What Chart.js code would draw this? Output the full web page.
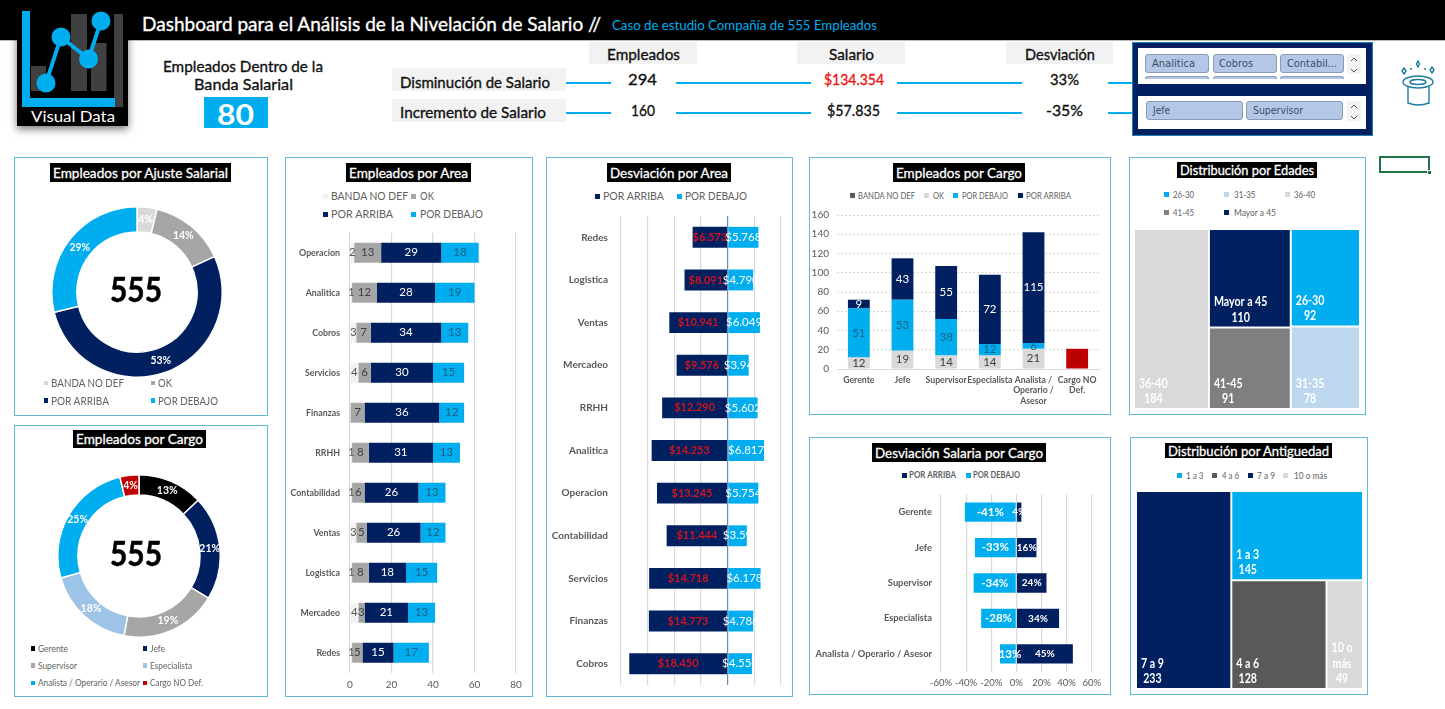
<!DOCTYPE html>
<html lang="es"><head><meta charset="utf-8"><title>Dashboard Nivelación de Salario</title>
<script src="https://cdn.jsdelivr.net/npm/chart.js@4/dist/chart.umd.min.js"></script>
<style>
html,body{margin:0;padding:0;background:#fff}
#root{position:relative;width:1445px;height:709px;overflow:hidden;background:#fff}
#root>*{position:absolute}
</style></head><body><div id="root"></div>
<script>
// ---------- DATA ----------
const ajusteLabels=['BANDA NO DEF','OK','POR ARRIBA','POR DEBAJO'];
const ajusteValues=[21,80,294,160];
const ajustePct=['4%','14%','53%','29%'];
const cargoLabels=['Gerente','Jefe','Supervisor','Especialista','Analista / Operario / Asesor','Cargo NO Def.'];
const cargoTotals=[72,115,107,98,142,21];
const cargoPct=['13%','21%','19%','18%','25%','4%'];
const areaLabels=['Operacion','Analitica','Cobros','Servicios','Finanzas','RRHH','Contabilidad','Ventas','Logistica','Mercadeo','Redes'];
const areaBanda=[2,1,3,4,0,1,1,3,1,4,1];
const areaOk=[13,12,7,6,7,8,6,5,8,3,5];
const areaArriba=[29,28,34,30,36,31,26,26,18,21,15];
const areaDebajo=[18,19,13,15,12,13,13,12,15,13,17];
const desvLabels=['Redes','Logistica','Ventas','Mercadeo','RRHH','Analitica','Operacion','Contabilidad','Servicios','Finanzas','Cobros'];
const desvArriba=[-6573,-8091,-10941,-9576,-12290,-14253,-13245,-11444,-14718,-14773,-18450];
const desvDebajo=[5768,4790,6049,3940,5602,6817,5754,3590,6178,4786,4550];
const desvArribaText=['$6.573','$8.091','$10.941','$9.576','$12.290','$14.253','$13.245','$11.444','$14.718','$14.773','$18.450'];
const desvDebajoText=['$5.768','$4.790','$6.049','$3.94','$5.602','$6.817','$5.754','$3.59','$6.178','$4.786','$4.550'];
const cargoTicks=['Gerente','Jefe','Supervisor','Especialista',['Analista /','Operario /','Asesor'],['Cargo NO','Def.']];
const cargoBanda=[0,0,0,0,0,21];
const cargoOk=[12,19,14,14,21,0];
const cargoDebajo=[51,53,38,12,6,0];
const cargoArriba=[9,43,55,72,115,0];
const salLabels=['Gerente','Jefe','Supervisor','Especialista','Analista / Operario / Asesor'];
const salArriba=[4,16,24,34,45];
const salDebajo=[-41,-33,-34,-28,-13];
const edadLabels=['26-30','31-35','36-40','41-45','Mayor a 45'];
const edadValues=[92,78,184,91,110];
const antigLabels=['1 a 3','4 a 6','7 a 9','10 o más'];
const antigValues=[145,128,233,49];

// ---------- COLOURS / HELPERS ----------
const NAVY='#002060',SKY='#00AEEF',G1='#F2F2F2',G2='#A6A6A6',G3='#D9D9D9',TXT='#595959';
const root=document.getElementById('root');
Chart.defaults.font.family='Lato';
Chart.defaults.animation=false;
Chart.defaults.plugins.legend.display=false;
Chart.defaults.plugins.tooltip.enabled=false;

function box(x0,y0,x1,y1,css){const d=document.createElement('div');
  d.style.cssText=`left:${x0}px;top:${y0}px;width:${x1-x0}px;height:${y1-y0}px;box-sizing:border-box;${css||''}`;root.append(d);return d;}
function txt(s,x0,x1,yc,size,color,weight,fam,stroke){const el=document.createElement('div');el.textContent=s;
  el.style.cssText=`left:${x0}px;top:${yc}px;white-space:nowrap;font:${weight||400} ${size}px/1 ${fam||'Lato'};color:${color};transform-origin:0 50%;${stroke?`-webkit-text-stroke:${stroke}px ${color};`:''}`;
  root.append(el);const w=el.getBoundingClientRect().width;
  el.style.transform=`translateY(-50%) scaleX(${(x1-x0)/w})`;return el;}
function med(s,x0,x1,yc,size,color){return txt(s,x0,x1,yc,size,color||'#111',400,'Lato',.35);}
function panel(x0,y0,x1,y1){box(x0,y0,x1,y1,'border:1.5px solid #62BAD8;background:#fff');}
function title(s,x0,x1,y0,y1,size){box(x0,y0,x1,y1,'background:#000');
  txt(s,x0+3,x1-3,(y0+y1)/2,size||14,'#fff',400,'Lato',.3);}
function leg(mx,yc,ms,color,s,x0,x1,size,col,weight){box(mx-ms/2,yc-ms/2,mx+ms/2,yc+ms/2,`background:${color}`);
  txt(s,x0,x1,yc,size,col||'#626262',weight||400);}
function canvas(x0,y0,x1,y1){const c=document.createElement('canvas');c.width=x1-x0;c.height=y1-y0;
  c.style.cssText=`left:${x0}px;top:${y0}px;width:${x1-x0}px;height:${y1-y0}px`;root.append(c);return c;}

const zeroLine={id:'zeroLine',afterDatasetsDraw(chart,a,o){if(!o.color)return;const {ctx,chartArea:c,scales:{x}}=chart;
  const px=x.getPixelForValue(0);ctx.save();ctx.strokeStyle=o.color;ctx.lineWidth=1;ctx.beginPath();ctx.moveTo(px,c.top);ctx.lineTo(px,c.bottom);ctx.stroke();ctx.restore();}};
const valueLabels={id:'valueLabels',afterDatasetsDraw(chart){const ctx=chart.ctx;
  chart.data.datasets.forEach((ds,di)=>{if(!ds.lab)return;
    chart.getDatasetMeta(di).data.forEach((el,i)=>{const t=ds.lab(ds.data[i],i);if(t==null||t==='')return;
      const p=el.getCenterPoint();ctx.save();ctx.font=ds.labFont||'12px Lato';
      const c=ds.labColor;ctx.fillStyle=Array.isArray(c)?c[i]:c;ctx.textAlign='center';ctx.textBaseline='middle';
      ctx.fillText(t,p.x,p.y);ctx.restore();});});}};
Chart.register(zeroLine,valueLabels);

function ring(cx,cy,r,labels,values,colors,cutout,texts,textColors){
  const c=canvas(cx-r-1,cy-r-1,cx+r+1,cy+r+1);
  new Chart(c,{type:'doughnut',data:{labels,datasets:[{data:values,backgroundColor:colors,borderColor:'#fff',borderWidth:1.5,
    lab:(v,i)=>texts[i],labFont:'700 10.5px Lato',labColor:textColors}]},
    options:{responsive:false,cutout,layout:{padding:0}}});
}
function bars(rect,plot,labels,datasets,horizontal,xo,yo,barPct,plugins){
  const [x0,y0,x1,y1]=rect,[l,t,r,b]=plot;
  const xfit=s=>{s.height=y1-b;s.paddingLeft=0;s.paddingRight=0;},yfit=s=>{s.width=l-x0;s.paddingTop=0;s.paddingBottom=0;};
  new Chart(canvas(x0,y0,x1,y1),{type:'bar',data:{labels,datasets:datasets.map(d=>({barPercentage:barPct,categoryPercentage:1,...d}))},
    options:{responsive:false,indexAxis:horizontal?'y':'x',layout:{padding:{left:0,top:t-y0,right:x1-r,bottom:0}},
      plugins:plugins||{},
      scales:{x:{stacked:true,afterFit:xfit,...xo},y:{stacked:true,afterFit:yfit,...yo}}}});
}

// Treemap: rectangles come from the values, placed through the chart's linear scales.
class TreemapController extends Chart.DatasetController{
  update(mode){const ds=this.getDataset(),meta=this._cachedMeta,vals=ds.data,out=[];
    const sum=n=>typeof n==='number'?vals[n]:n.kids.reduce((a,k)=>a+sum(k),0);
    (function walk(n,b){if(typeof n==='number'){out[n]=b;return;}
      const tot=sum(n);let p=0;n.kids.forEach(k=>{const f=sum(k)/tot;
        walk(k,n.dir==='h'?{x0:b.x0+(b.x1-b.x0)*p,x1:b.x0+(b.x1-b.x0)*(p+f),y0:b.y0,y1:b.y1}
                          :{x0:b.x0,x1:b.x1,y0:b.y0+(b.y1-b.y0)*p,y1:b.y0+(b.y1-b.y0)*(p+f)});p+=f;});
    })(ds.tree,{x0:0,x1:1,y0:0,y1:1});
    meta.data.forEach((el,i)=>{const q=out[i],g=1;
      const l=meta.xScale.getPixelForValue(q.x0)+g,r=meta.xScale.getPixelForValue(q.x1)-g;
      const t=meta.yScale.getPixelForValue(q.y0)+g,bt=meta.yScale.getPixelForValue(q.y1)-g;
      this.updateElement(el,i,{x:(l+r)/2,y:t,base:bt,width:r-l,height:bt-t,horizontal:false,enableBorderRadius:false,
        inflateAmount:0,borderSkipped:{},options:this.resolveDataElementOptions(i,mode)},mode);});
  }
}
TreemapController.id='treemapCells';
TreemapController.defaults={datasetElementType:false,dataElementType:'bar'};
Chart.register(TreemapController);
const treemapText={id:'treemapText',afterDatasetsDraw(chart){const ctx=chart.ctx,ds=chart.data.datasets[0];if(ds.type!=='treemapCells')return;
  const K=.85;
  chart.getDatasetMeta(0).data.forEach((el,i)=>{const names=ds.names[i],L=el.x-el.width/2,B=el.base;
    ctx.save();ctx.fillStyle='#fff';ctx.font='700 12.5px Lato';ctx.textBaseline='middle';
    const w=K*Math.max(...names.map(n=>ctx.measureText(n).width));const lines=[...names,String(ds.data[i])];
    lines.forEach((s,k)=>{const yy=B-9-(lines.length-1-k)*15.3;const isVal=k===lines.length-1;
      const centred=isVal||names.length>1;
      ctx.save();ctx.translate(centred?L+4+w/2:L+4,yy);ctx.scale(K,1);ctx.textAlign=centred?'center':'left';
      ctx.fillText(s,0,0);ctx.restore();});
    ctx.restore();});}};
Chart.register(treemapText);
function treemap(x0,y0,x1,y1,labels,values,colors,names,tree){
  new Chart(canvas(x0,y0,x1,y1),{data:{labels,datasets:[{type:'treemapCells',data:values,backgroundColor:colors,tree,names}]},
    options:{responsive:false,scales:{x:{type:'linear',display:false,min:0,max:1},y:{type:'linear',display:false,min:0,max:1,reverse:true}}}});
}

// ---------- HEADER ----------
box(0,0,1445,41,'background:#000;border-bottom:1px solid #bbb');
txt('Dashboard para el Análisis de la Nivelación de Salario //',142,601,23,20,'#fff',400,'Lato',.35);
txt('Caso de estudio Compañía de 555 Empleados',612,877,25.5,12.5,SKY);
box(17,0,128,126,'background:#000;box-shadow:0 3px 8px rgba(0,0,0,.55)');
const logo=document.createElementNS('http://www.w3.org/2000/svg','svg');
logo.setAttribute('style','left:17px;top:0;width:111px;height:126px');logo.setAttribute('viewBox','17 0 111 126');
logo.innerHTML=`<g fill="#404040"><rect x="31" y="66" width="15" height="25"/><rect x="71" y="14" width="16" height="77"/><rect x="91" y="43" width="15.5" height="48"/><rect x="114" y="14" width="9" height="93"/></g>
<path d="M22 11h8v87h85v9H22z" fill="${SKY}"/><path d="M46 83L61 37 88.6 59 101 21" fill="none" stroke="${SKY}" stroke-width="4"/>
<g fill="${SKY}"><circle cx="46" cy="83" r="9.5"/><circle cx="61" cy="37" r="9.5"/><circle cx="88.6" cy="59" r="9.5"/><circle cx="101" cy="21" r="9.5"/></g>`;
root.append(logo);
txt('Visual Data',31,115,116,16,'#fff');

// ---------- KPI STRIP ----------
med('Empleados Dentro de la',163,323,66,16);
med('Banda Salarial',194,293,84,16);
box(204,97,268,128,`background:${SKY}`);
txt('80',217,254,112.5,29,'#fff',700);
[[589,697],[797,905],[1006,1113]].forEach(c=>box(c[0],42,c[1],64,'background:#F2F2F2'));
med('Empleados',607,680,54,16);med('Salario',829,874,54,16);med('Desviación',1025,1095,54,16);
box(392,68,566,91,'background:#F2F2F2');box(392,99,566,122,'background:#F2F2F2');
med('Disminución de Salario',400,550,82,16);med('Incremento de Salario',400,546,112,16);
[[566,611],[676,811],[897,1022],[1108,1132]].forEach(s=>{box(s[0],82,s[1],84,`background:${SKY}`);box(s[0],112,s[1],114,`background:${SKY}`);});
med('294',628,657,80,15.5);med('160',631,655,111,15.5);
med('$134.354',824,884,80,15.5,'#EE1111');med('$57.835',827,880,111,15.5);
med('33%',1050,1079,80,15.5);med('-35%',1046,1083,111,15.5);

// ---------- SLICERS ----------
box(1132,42,1373,136,`background:${NAVY};border:1.5px solid #1c80b5`);
box(1138,48,1366,84,'background:#fff');box(1138,96,1366,129,'background:#fff');
const BTN='background:#B4C7E7;border:1px solid #8a9bb8;border-radius:3px';
[[1145,1209],[1213,1277],[1280,1344]].forEach(b=>{box(b[0],54,b[1],73,BTN);box(b[0],76,b[1],79,'background:#B4C7E7;border-radius:3px 3px 0 0;border:1px solid #8a9bb8;border-bottom:0');});
box(1146,101,1243,120,BTN);box(1246,101,1343,120,BTN);
const SF="'DejaVu Sans'";
txt('Analitica',1152,1195,64,10,'#3f4d63',400,SF);txt('Cobros',1219,1253,64,10,'#3f4d63',400,SF);txt('Contabil...',1287,1337,64,10,'#3f4d63',400,SF);
txt('Jefe',1153,1170,110.5,10,'#3f4d63',400,SF);txt('Supervisor',1253,1303,110.5,10,'#3f4d63',400,SF);
box(1347,54,1361,74,'background:#F2F2F2');box(1347,101,1361,121,'background:#F2F2F2');
const art=document.createElementNS('http://www.w3.org/2000/svg','svg');
art.setAttribute('style','left:0;top:0;width:1445px;height:709px;pointer-events:none');art.setAttribute('viewBox','0 0 1445 709');
art.innerHTML=`<g fill="none" stroke="#555" stroke-width="1">
<path d="M1351 61l3-3 3 3M1351 69l3 3 3-3M1351 108l3-3 3 3M1351 116l3 3 3-3"/></g>
<g fill="none" stroke="#1B7C9E" stroke-width="1.4"><ellipse cx="1418" cy="82" rx="15" ry="6"/><ellipse cx="1418" cy="82" rx="8" ry="2.5"/>
<path d="M1408 87v16q10 4 21 0V87"/><path d="M1418 61l1.5 3-1.5 3-1.5-3zM1404 68l2 3-2 3-2-3zM1432 67l2 3-2 3-2-3z"/></g>
<g fill="#1B7C9E"><circle cx="1411" cy="69" r="1"/><circle cx="1425" cy="69" r="1"/></g>`;
root.append(art);
box(1379,156,1430,173,'border:2px solid #217346');box(1427,170,1432,175,'background:#217346;border:1px solid #fff');

// ---------- PANELS ----------
panel(14,157,268,416);panel(14,425,268,697);panel(285,157,533,697);panel(546,157,793,697);
panel(809,157,1111,415);panel(809,437,1111,695);panel(1129,157,1366,415);panel(1130,437,1368,695);
title('Empleados por Ajuste Salarial',50,231,163,182);
title('Empleados por Cargo',73,206,430,448);
title('Empleados por Area',346,471,163,182);
title('Desviación por Area',607,731,163,182);
title('Empleados por Cargo',893,1025,163,182);
title('Desviación Salaria por Cargo',872,1046,443,462);
title('Distribución por Edades',1177,1317,162,178);
title('Distribución por Antiguedad',1165,1332,443,458);

// A. Ajuste doughnut
ring(137,292,85,ajusteLabels,ajusteValues,[G3,G2,NAVY,SKY],'70.5%',ajustePct,'#fff');
txt('555',110,162,289,34,'#000',700,'Lato',.5);
leg(46,383,4.5,G3,ajusteLabels[0],51,124,12);leg(153,383,4.5,G2,ajusteLabels[1],158,172,12);
leg(46,400.5,4.5,NAVY,ajusteLabels[2],51,109,12);leg(153,400.5,4.5,SKY,ajusteLabels[3],158,218,12);

// B. Cargo doughnut
const cargoColors=['#000',NAVY,G2,'#9DC3E6',SKY,'#C00000'];
ring(138.5,556,81,cargoLabels,cargoTotals,cargoColors,'75%',cargoPct,'#fff');
txt('555',110,162,553,34,'#000',700,'Lato',.5);
[[33,648.7,38,68],[145,648.7,150,165],[33,665.7,38,77],[145,665.7,150,192],[33,683,38,140],[145,683,150,203]].forEach((p,i)=>
  leg(p[0],p[1],4.5,cargoColors[i],cargoLabels[i],p[2],p[3],9.8));

// C. Empleados por Area
const LB='11.5px Lato',grid={color:G3,lineWidth:1.2,drawTicks:false};
bars([287,225,531,695],[350,232.7,516,672.7],areaLabels,[
 {label:ajusteLabels[0],data:areaBanda,backgroundColor:G1,lab:v=>v||'',labFont:LB,labColor:'#595959'},
 {label:ajusteLabels[1],data:areaOk,backgroundColor:G2,lab:v=>v,labFont:LB,labColor:'#404040'},
 {label:ajusteLabels[2],data:areaArriba,backgroundColor:NAVY,lab:v=>v,labFont:LB,labColor:'#fff'},
 {label:ajusteLabels[3],data:areaDebajo,backgroundColor:SKY,lab:v=>v,labFont:LB,labColor:'#1c6283'}],true,
 {type:'linear',min:0,max:80,grid,border:{display:false},ticks:{stepSize:20,padding:6,color:TXT,maxRotation:0,font:{size:10}}},
 {grid:{display:false,drawTicks:false},border:{display:false},ticks:{padding:10,color:TXT,autoSkip:false,font:{size:8.8,weight:'bold'}}},0.5);
leg(325,196,5,G1,ajusteLabels[0],331,408,11.5);leg(413,196,5,G2,ajusteLabels[1],420,434,11.5);
leg(325,214,5,NAVY,ajusteLabels[2],331,393,11.5);leg(413,214,5,SKY,ajusteLabels[3],420,483,11.5);

// D. Desviación por Area
const DF='700 11px Lato';
bars([548,205,791,695],[621,216,781,685],desvLabels,[
 {label:'POR ARRIBA',data:desvArriba,backgroundColor:NAVY,lab:(v,i)=>desvArribaText[i],labFont:DF,labColor:'#D2141E'},
 {label:'POR DEBAJO',data:desvDebajo,backgroundColor:SKY,lab:(v,i)=>desvDebajoText[i],labFont:'11.5px Lato',labColor:'#fff'}],true,
 {type:'linear',min:-20000,max:10000,grid,border:{display:false},ticks:{stepSize:5000,display:false}},
 {grid:{display:false,drawTicks:false},border:{display:false},ticks:{padding:13,color:TXT,autoSkip:false,font:{size:10,weight:'bold'}}},0.49,
 {zeroLine:{color:'#5C7EB5'}});
leg(597,196,5,NAVY,'POR ARRIBA',603,664,11.5);leg(679,196,5,SKY,'POR DEBAJO',685,747,11.5);

// E. Empleados por Cargo (stacked columns)
bars([811,205,1109,413],[837,215,1099,369],cargoTicks,[
 {label:ajusteLabels[0],data:cargoBanda,backgroundColor:'#C00000',lab:v=>v||'',labFont:LB,labColor:'#9a0000'},
 {label:ajusteLabels[1],data:cargoOk,backgroundColor:G3,lab:v=>v||'',labFont:LB,labColor:'#404040'},
 {label:ajusteLabels[3],data:cargoDebajo,backgroundColor:SKY,lab:v=>v||'',labFont:LB,labColor:'#1c6283'},
 {label:ajusteLabels[2],data:cargoArriba,backgroundColor:NAVY,lab:v=>v||'',labFont:LB,labColor:'#fff'}],false,
 {grid:{display:false,drawTicks:false},border:{color:G3},ticks:{padding:6,color:TXT,autoSkip:false,maxRotation:0,minRotation:0,font:{size:8.7,weight:'bold'}}},
 {type:'linear',min:0,max:160,grid:{color:G3,drawTicks:false},border:{display:false,dash:[2,2]},ticks:{stepSize:20,padding:8,color:TXT,font:{size:10}}},0.5);
leg(852,195,5,'#595959','BANDA NO DEF',858,915,9);leg(926,195,5,G3,'OK',933,944,9);
leg(955,195,5,SKY,'POR DEBAJO',962,1008,9);leg(1020,195,5,NAVY,'POR ARRIBA',1026,1071,9);

// F. Desviación Salaria por Cargo
bars([811,485,1109,693],[941,494.5,1091.7,671.5],salLabels,[
 {label:'POR ARRIBA',data:salArriba,backgroundColor:NAVY,lab:v=>v+'%',labFont:'700 10px Lato',labColor:'#fff'},
 {label:'POR DEBAJO',data:salDebajo,backgroundColor:SKY,lab:v=>v+'%',labFont:'700 11.5px Lato',labColor:'#fff'}],true,
 {type:'linear',min:-60,max:60,grid,border:{display:false},ticks:{stepSize:20,padding:6,color:TXT,autoSkip:false,maxRotation:0,minRotation:0,font:{size:9.5},callback:v=>v+'%'}},
 {grid:{display:false,drawTicks:false},border:{display:false},ticks:{padding:9,color:TXT,autoSkip:false,font:{size:9.3,weight:'bold'}}},0.545);
leg(904,475,5,NAVY,'POR ARRIBA',909,956,9.5,'#626262',700);leg(968,475,5,SKY,'POR DEBAJO',973,1020,9.5,'#626262',700);

// G. Distribución por Edades
const edadColors=[SKY,'#BDD7EE',G3,'#7F7F7F',NAVY];
treemap(1134,229,1360,409,edadLabels,edadValues,edadColors,edadLabels.map(s=>[s]),
  {dir:'h',kids:[2,{dir:'v',kids:[4,3]},{dir:'v',kids:[0,1]}]});
[[1166,194,1173,1194],[1226,194,1233.5,1255],[1287,194,1294,1315],[1166,212,1173,1194],[1226,212,1234,1276]].forEach((p,i)=>
  leg(p[0],p[1],5,edadColors[i],edadLabels[i],p[2],p[3],10));

// H. Distribución por Antiguedad
const antigColors=[SKY,'#595959',NAVY,G3];
treemap(1136,491,1363,689,antigLabels,antigValues,antigColors,[['1 a 3'],['4 a 6'],['7 a 9'],['10 o','más']],
  {dir:'h',kids:[2,{dir:'v',kids:[0,{dir:'h',kids:[1,3]}]}]});
[[1179,1186,1203.5],[1214.7,1222,1239],[1250,1257,1275],[1285.7,1294,1327]].forEach((p,i)=>
  leg(p[0],475,5,antigColors[i],antigLabels[i],p[1],p[2],10));
</script></body></html>
